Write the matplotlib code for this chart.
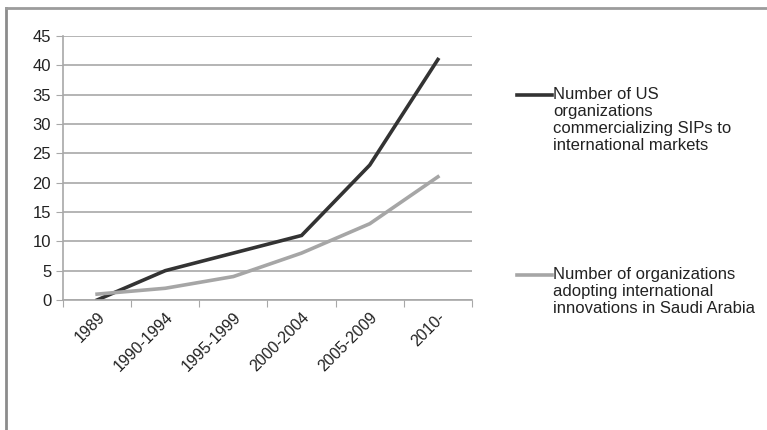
import matplotlib.pyplot as plt
from matplotlib.lines import Line2D

plt.rcParams['font.family'] = ['Liberation Sans', 'DejaVu Sans']

periods = ["1989", "1990-1994", "1995-1999", "2000-2004", "2005-2009", "2010-"]
us_orgs = [0, 5, 8, 11, 23, 41]
saudi_orgs = [1, 2, 4, 8, 13, 21]
labels = ["Number of US\norganizations\ncommercializing SIPs to\ninternational markets",
          "Number of organizations\nadopting international\ninnovations in Saudi Arabia"]

W, H = 767, 430
fig = plt.figure(figsize=(W / 100, H / 100), dpi=100)
ax = fig.add_axes([63 / W, 1 - 300 / H, (472 - 63) / W, (300 - 36) / H])

x = range(len(periods))
ax.plot(x, us_orgs, color="#333333", lw=2.6, solid_joinstyle="miter")
ax.plot(x, saudi_orgs, color="#a6a6a6", lw=2.6, solid_joinstyle="miter")

ax.set_xlim(-0.5, len(periods) - 0.5)
ax.set_ylim(0, 45)
ax.set_yticks(range(0, 46, 5))
ax.yaxis.grid(True, color="#a8a8a8", lw=1.2)
ax.set_axisbelow(True)
for s in ["top", "right"]:
    ax.spines[s].set_visible(False)
ax.spines["left"].set_color("#a8a8a8")
ax.spines["bottom"].set_color("#a8a8a8")
ax.spines["left"].set_linewidth(1.2)
ax.spines["bottom"].set_linewidth(1.2)

# category ticks sit between the periods, labels at the centres
ax.set_xticks([i - 0.5 for i in range(len(periods) + 1)])
ax.set_xticklabels([])
ax.set_xticks(list(x), minor=True)
ax.set_xticklabels(periods, minor=True, rotation=45, ha="right",
                   rotation_mode="anchor", fontsize=11.5, color="#222222")
ax.tick_params(axis="x", which="minor", length=0, pad=7)
ax.tick_params(axis="x", which="major", length=5, color="#a8a8a8", direction="out")
ax.tick_params(axis="y", length=5, color="#a8a8a8", labelsize=12, labelcolor="#222222")

# legend entries placed beside the plot
for ly, lab, col in [(95, labels[0], "#333333"), (275, labels[1], "#a6a6a6")]:
    fig.add_artist(Line2D([517 / W, 552 / W], [1 - ly / H, 1 - ly / H],
                          color=col, lw=2.6))
    fig.text(553 / W, 1 - (ly - 8) / H, lab, va="top", ha="left",
             fontsize=12, color="#222222", linespacing=1.17)

# frame around the figure
fig.add_artist(Line2D([5.5 / W, 5.5 / W], [0, 1 - 7.5 / H], color="#8c8c8c", lw=2))
fig.add_artist(Line2D([5.5 / W, 1], [1 - 7.5 / H, 1 - 7.5 / H], color="#9c9c9c", lw=2))

fig.savefig("out.png", dpi=100)
